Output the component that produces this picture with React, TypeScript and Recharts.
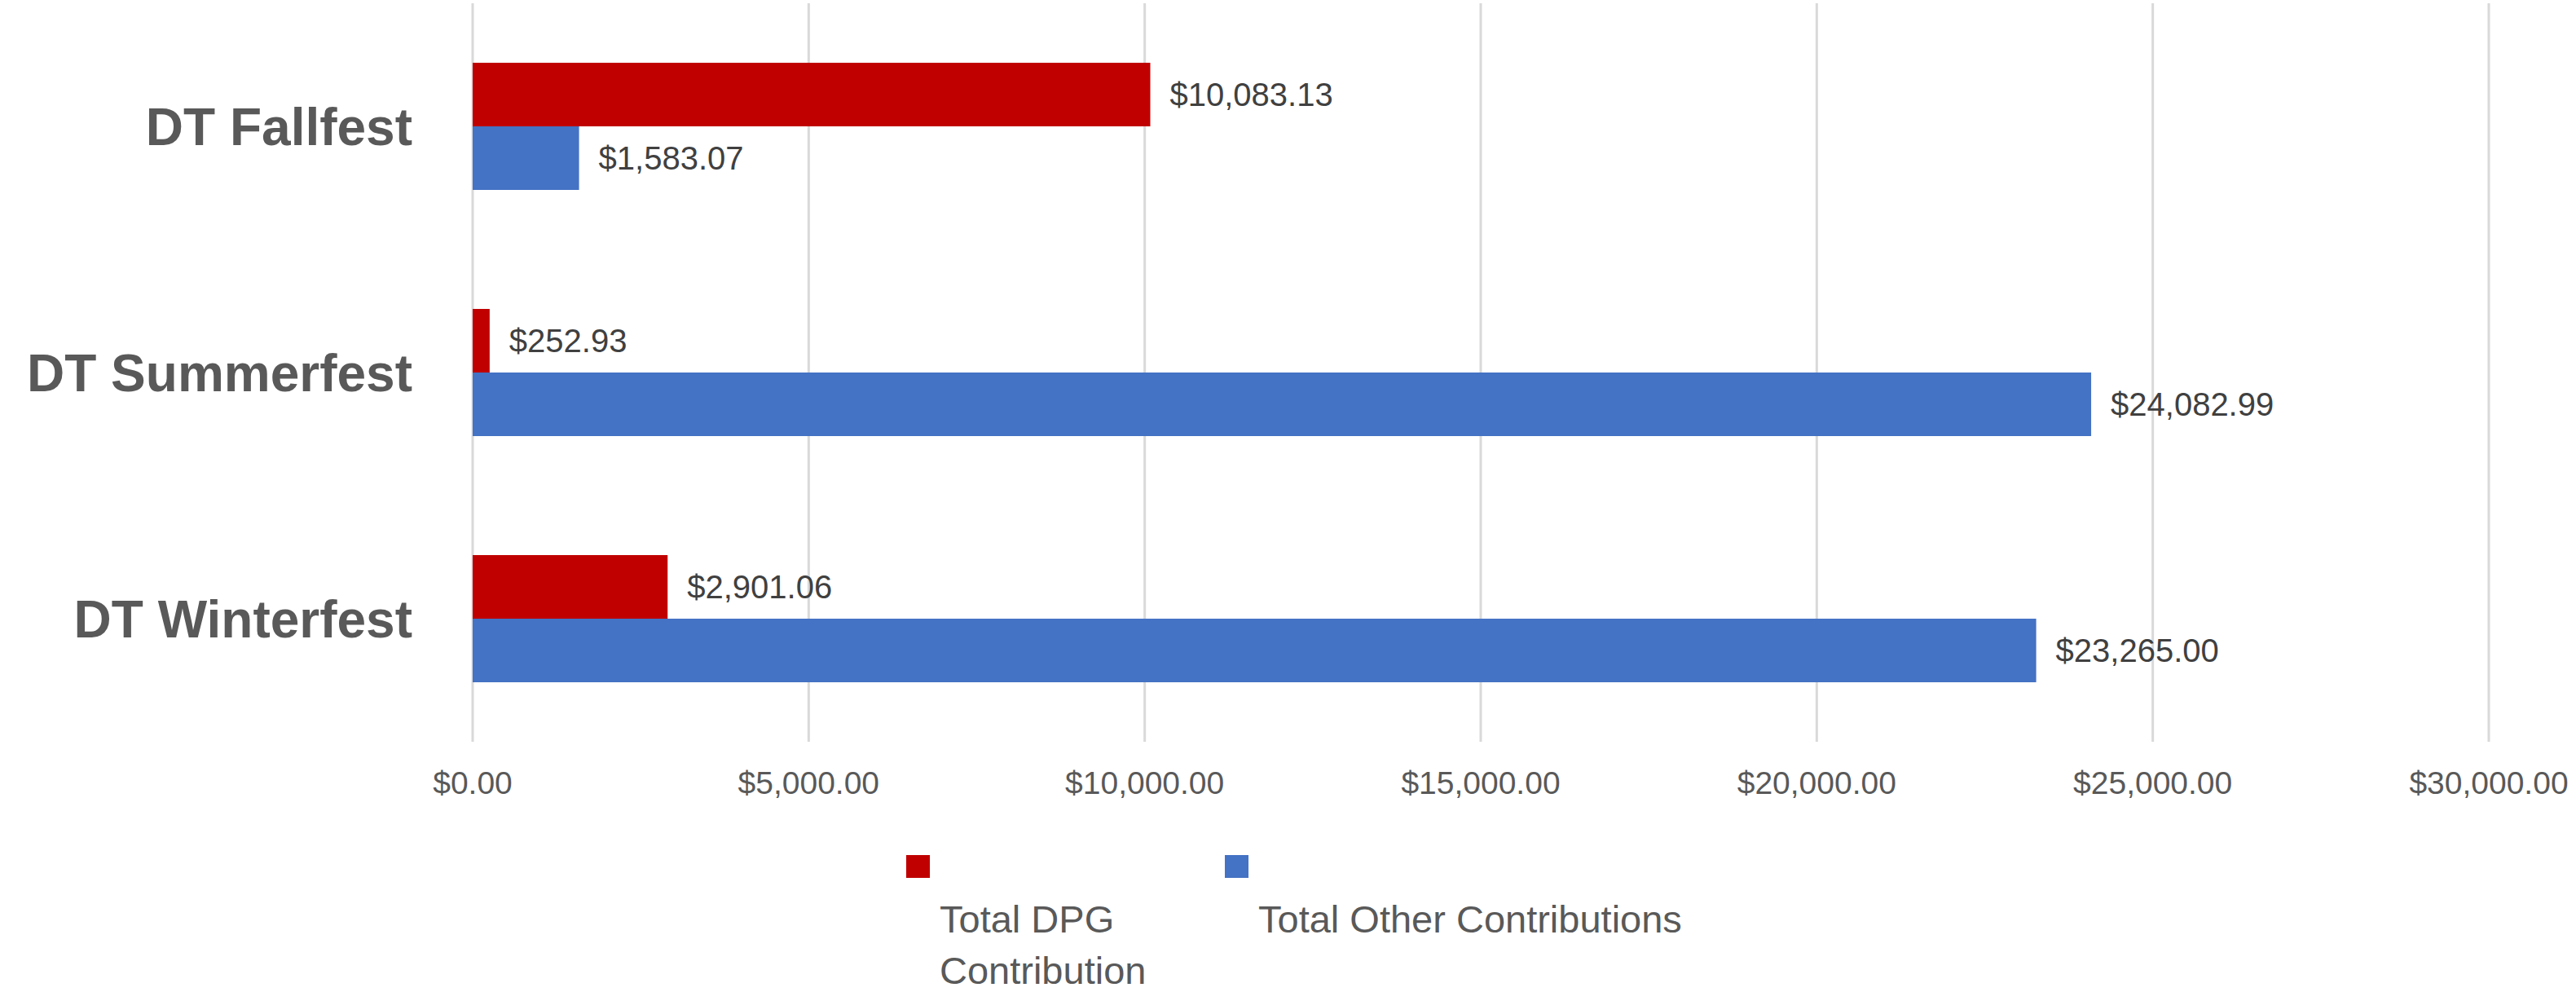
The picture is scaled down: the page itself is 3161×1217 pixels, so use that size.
import { BarChart, Bar, XAxis, YAxis, CartesianGrid, Legend, LabelList } from 'recharts';

// event names, top to bottom
const events = ['DT Fallfest', 'DT Summerfest', 'DT Winterfest'];
const dpgContribution = [10083.13, 252.93, 2901.06];
const otherContributions = [1583.07, 24082.99, 23265.0];
const xTicks = [0, 5000, 10000, 15000, 20000, 25000, 30000];

const data = events.map((name, i) => ({
  name,
  dpg: dpgContribution[i],
  other: otherContributions[i],
}));

const money = (v: any) =>
  '$' + Number(v).toLocaleString('en-US', { minimumFractionDigits: 2, maximumFractionDigits: 2 });

const FONT = '"Liberation Sans", Arial, sans-serif';

const renderLegend = (props: any) => {
  const { payload } = props;
  const widths = [391, 700];
  return (
    <div style={{ display: 'flex', fontFamily: FONT }}>
      {payload.map((item: any, i: number) => (
        <div key={item.value} style={{ position: 'relative', width: widths[i], height: 150 }}>
          <div style={{ position: 'absolute', left: 0, top: 0, width: 29, height: 28, background: item.color }} />
          <div
            style={{
              position: 'absolute',
              left: 41,
              top: 47,
              width: i === 0 ? 320 : 640,
              fontSize: 47,
              lineHeight: '63px',
              color: '#595959',
            }}
          >
            {item.value}
          </div>
        </div>
      ))}
    </div>
  );
};

export default function App() {
  return (
    <div style={{ position: 'absolute', left: 0, top: 0, background: '#fff' }}>
      <BarChart
        width={3161}
        height={1217}
        data={data}
        layout="vertical"
        margin={{ top: 4, right: 107, bottom: 247, left: 0 }}
        barGap={0}
      >
        <CartesianGrid horizontal={false} stroke="#d9d9d9" strokeWidth={3} />
        <XAxis
          type="number"
          domain={[0, 30000]}
          ticks={xTicks}
          tickFormatter={money}
          axisLine={false}
          tickLine={false}
          tickSize={0}
          tickMargin={36}
          height={60}
          interval={0}
          tick={{ fontSize: 39, fill: '#595959', fontFamily: FONT }}
        />
        <YAxis
          type="category"
          dataKey="name"
          width={580}
          axisLine={false}
          tickLine={false}
          tickSize={0}
          tickMargin={74}
          tick={{ fontSize: 64, fontWeight: 'bold', fill: '#595959', fontFamily: FONT }}
        />
        <Legend
          layout="vertical"
          align="center"
          verticalAlign="middle"
          content={renderLegend}
          wrapperStyle={{ left: 1112, top: 1049, width: 1200 }}
        />
        <Bar dataKey="dpg" name="Total DPG Contribution" fill="#c00000" barSize={78} isAnimationActive={false}>
          <LabelList
            dataKey="dpg"
            position="right"
            offset={24}
            formatter={money}
            style={{ fontSize: 40, fill: '#404040', fontFamily: FONT }}
          />
        </Bar>
        <Bar dataKey="other" name="Total Other Contributions" fill="#4472c4" barSize={78} isAnimationActive={false}>
          <LabelList
            dataKey="other"
            position="right"
            offset={24}
            formatter={money}
            style={{ fontSize: 40, fill: '#404040', fontFamily: FONT }}
          />
        </Bar>
      </BarChart>
    </div>
  );
}
